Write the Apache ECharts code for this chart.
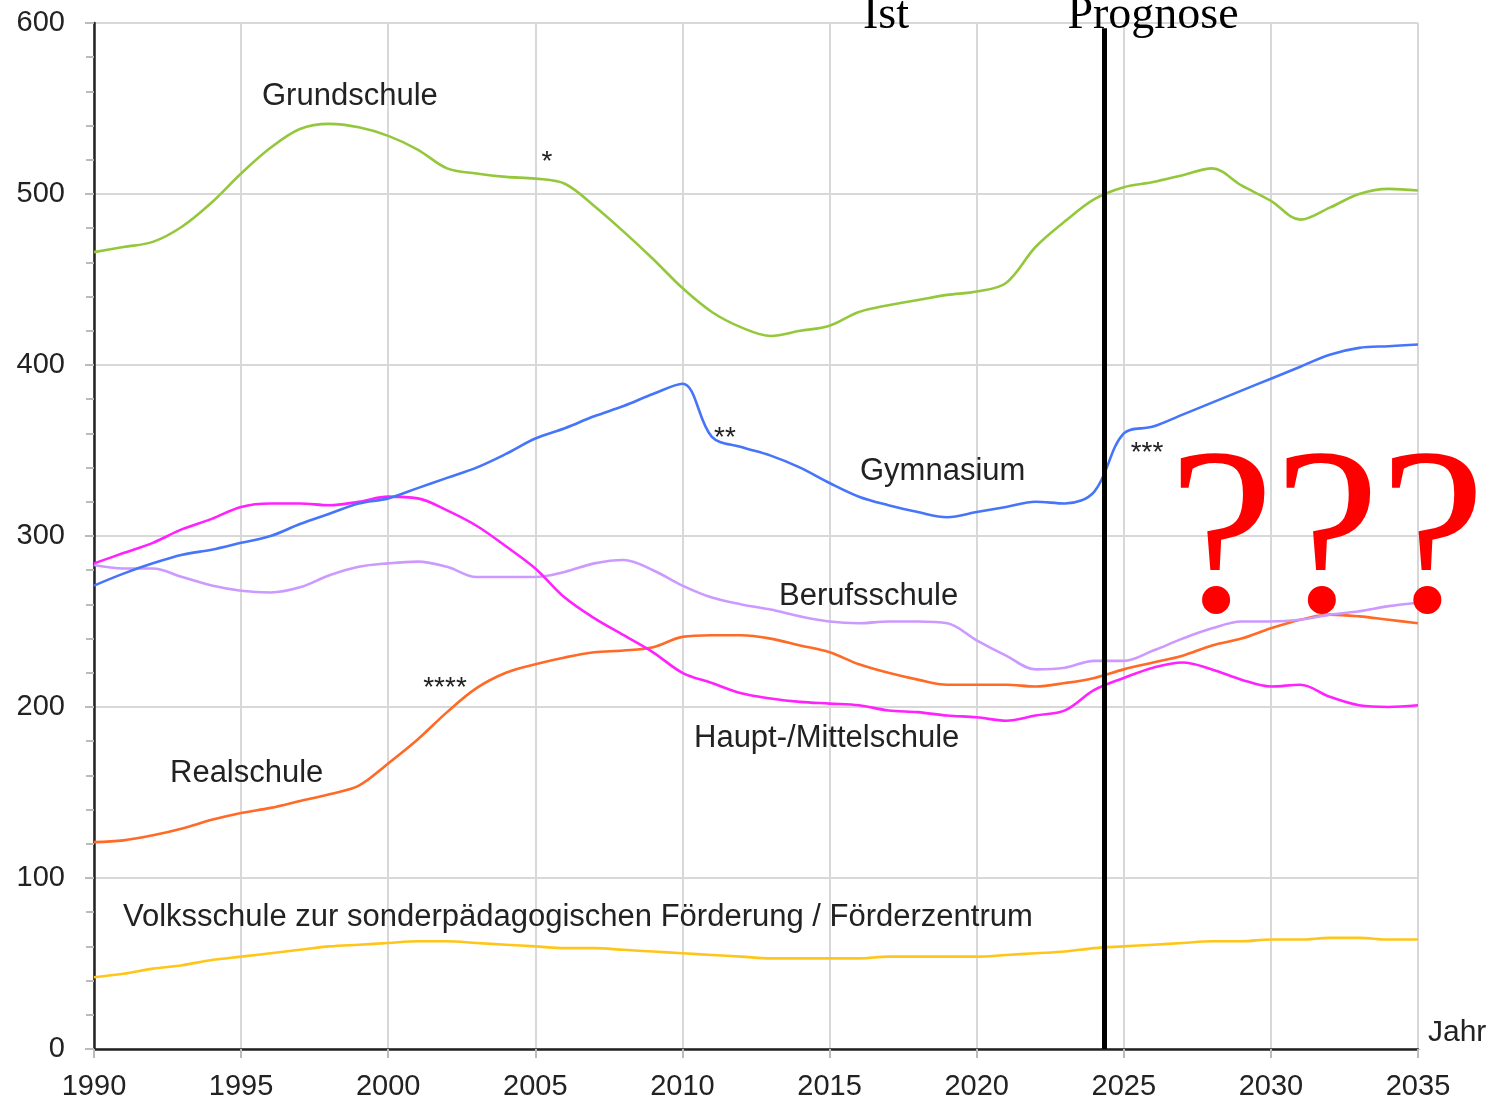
<!DOCTYPE html>
<html>
<head>
<meta charset="utf-8">
<script src="https://cdn.jsdelivr.net/npm/echarts@6/dist/echarts.min.js"></script>
<style>
html,body{margin:0;padding:0;background:#fff;}
#c{width:1499px;height:1102px;}
</style>
</head>
<body>
<div id="c"></div>
<script>
const years = [];
for (let y = 1990; y <= 2035; y++) years.push(y);

const grundschule = [466,469,472,481,495,512,527,538,541,539,534,526,515,512,510,509,506,493,478,462,445,431,422,417,420,423,431,435,438,441,443,448,469,484,497,504,507,511,515,505,496,485,492,500,503,502];
const gymnasium   = [271,278,284,289,292,296,300,307,313,319,322,328,334,340,348,357,363,370,376,383,389,358,352,347,340,331,323,318,314,311,314,317,320,319,326,360,364,371,378,385,392,399,406,410,411,412];
const hauptschule = [284,290,296,304,310,317,319,319,318,320,323,322,315,306,294,281,264,252,242,232,220,214,208,205,203,202,201,198,197,195,194,192,195,198,210,217,223,226,222,216,212,213,206,201,200,201];
const berufsschule= [283,281,281,276,271,268,267,270,277,282,284,285,282,276,276,276,279,284,286,280,271,264,260,257,253,250,249,250,250,249,239,230,222,223,227,227,233,240,246,250,250,251,254,256,259,261];
const realschule  = [121,122,125,129,134,138,141,145,149,154,167,181,197,211,220,225,229,232,233,235,241,242,242,240,236,232,225,220,216,213,213,213,212,214,217,222,226,230,236,240,246,251,254,253,251,249];
const volksschule = [42,44,47,49,52,54,56,58,60,61,62,63,63,62,61,60,59,59,58,57,56,55,54,53,53,53,53,54,54,54,54,55,56,57,59,60,61,62,63,63,64,64,65,65,64,64];

const xTicks = [1990,1995,2000,2005,2010,2015,2020,2025,2030,2035];
const yTicks = [0,100,200,300,400,500,600];
const prognoseStart = 2024.33;

function pairs(arr){ return arr.map((v,i)=>[years[i], v]); }

const chart = echarts.init(document.getElementById('c'), null, {renderer:'canvas'});

function mkSeries(name, data, color){
  return {
    name, type:'line', data: pairs(data), smooth: 0.35, showSymbol:false, symbol:'none',
    lineStyle:{color, width:2.6}, itemStyle:{color}, z:3
  };
}

const FONT = 'Liberation Sans, Arial, sans-serif';
const SERIF = 'Liberation Serif, Times New Roman, serif';

const series = [
  mkSeries('Volksschule', volksschule, '#ffc61a'),
  mkSeries('Realschule', realschule, '#ff6a26'),
  mkSeries('Berufsschule', berufsschule, '#cc99ff'),
  mkSeries('Haupt-/Mittelschule', hauptschule, '#ff22ff'),
  mkSeries('Gymnasium', gymnasium, '#4675fa'),
  mkSeries('Grundschule', grundschule, '#94c83c')
];
series.push({
  type:'line', data:[], silent:true,
  markLine:{
    symbol:['none','none'], silent:true, label:{show:false},
    lineStyle:{color:'#000', width:5, type:'solid'},
    data:[[{coord:[prognoseStart,0]},{coord:[prognoseStart,597]}]]
  }, z:5
});

function txt(x,y,text,opt){
  return {type:'text', x, y, z:20, style:Object.assign({text, fill:'#222', font:'31px '+FONT, textAlign:'left', textVerticalAlign:'middle', verticalAlign:'middle'}, opt||{})};
}

chart.setOption({
  animation:false,
  backgroundColor:'#fff',
  grid:{left:94, right:81, top:23, bottom:53, containLabel:false},
  xAxis:{
    type:'value', min:1990, max:2035, interval:5,
    axisLine:{show:true, onZero:false, lineStyle:{color:'#222', width:2.5}},
    axisTick:{show:true, length:9, lineStyle:{color:'#bbb', width:2}},
    axisLabel:{color:'#222', fontSize:29, fontFamily:FONT, margin:23, formatter:v=>String(v)},
    splitLine:{show:true, lineStyle:{color:'#d8d8d8', width:2}}
  },
  yAxis:{
    type:'value', min:0, max:600, interval:100,
    axisLine:{show:true, onZero:false, lineStyle:{color:'#222', width:2.5}},
    axisTick:{show:true, length:9, lineStyle:{color:'#bbb', width:2}},
    minorTick:{show:true, splitNumber:5, length:8, lineStyle:{color:'#bbb', width:2}},
    axisLabel:{color:'#222', fontSize:29, fontFamily:FONT, margin:29},
    splitLine:{show:true, lineStyle:{color:'#d8d8d8', width:2}}
  },
  series,
  graphic:[
    txt(15,-8,'in Tausend',{font:'28px '+FONT}),
    txt(1428,1033,'Jahr',{font:'30px '+FONT}),
    txt(262,96,'Grundschule'),
    txt(860,471,'Gymnasium'),
    txt(779,596,'Berufsschule'),
    txt(694,738,'Haupt-/Mittelschule'),
    txt(170,773,'Realschule'),
    txt(123,917,'Volksschule zur sonderpädagogischen Förderung / Förderzentrum'),
    txt(547,162,'*',{font:'28px '+FONT, textAlign:'center'}),
    txt(725,438,'**',{font:'28px '+FONT, textAlign:'center'}),
    txt(1147,453,'***',{font:'28px '+FONT, textAlign:'center'}),
    txt(445,688,'****',{font:'28px '+FONT, textAlign:'center'}),
    txt(886,16,'Ist',{font:'46px '+SERIF, fill:'#000', textAlign:'center'}),
    txt(1153,16,'Prognose',{font:'46px '+SERIF, fill:'#000', textAlign:'center'}),
    txt(1327,548,'???',{font:'238px '+SERIF, fill:'#ff0000', textAlign:'center'})
  ]
});
</script>
</body>
</html>
